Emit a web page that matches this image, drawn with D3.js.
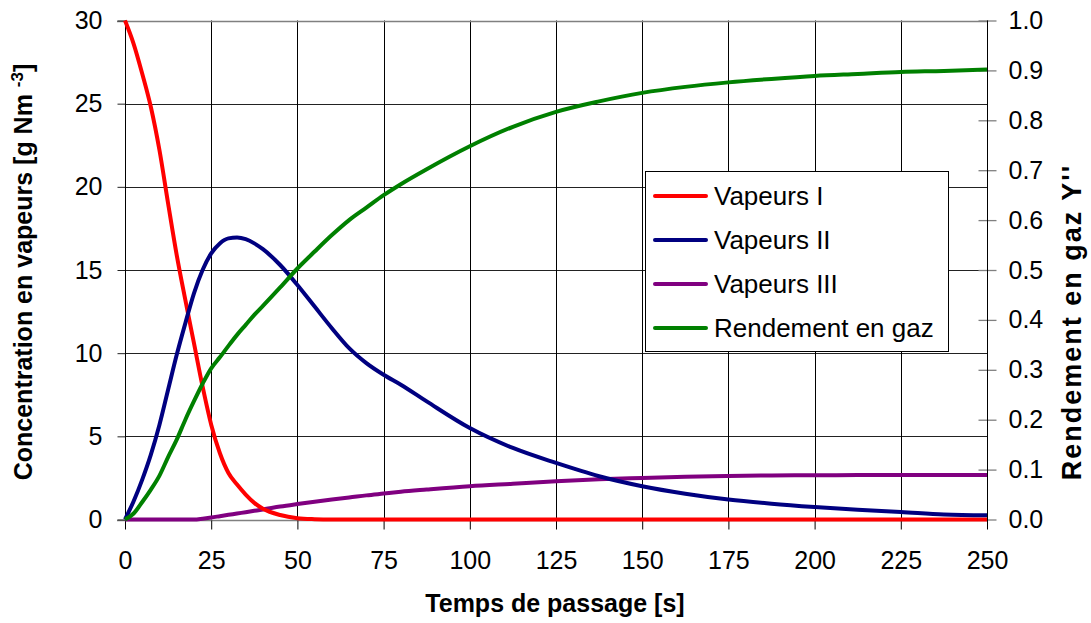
<!DOCTYPE html>
<html><head><meta charset="utf-8">
<script src="https://cdn.jsdelivr.net/npm/d3@7"></script>
<style>
html,body{margin:0;padding:0;background:#fff;}
svg text{font-family:"Liberation Sans",Arial,sans-serif;}
</style></head>
<body>
<svg id="chart" width="1091" height="623"></svg>
<script>
const times   = [0,2.5,5,7.5,10,12.5,15,17.5,20,22.5,25,27.5,30,32.5,35,37.5,40,45,50,55,60,65,70,75,80,87.5,100,112.5,125,137.5,150,162.5,175,187.5,200,212.5,225,237.5,250];
const vapI    = [30,28.6,26.8,24.8,22.2,19.0,15.9,13.2,10.6,8.0,5.7,4.0,2.8,2.1,1.5,1.0,0.65,0.27,0.08,0.02,0,0,0,0,0,0,0,0,0,0,0,0,0,0,0,0,0,0,0];
const vapII   = [0,1.1,2.4,3.9,5.7,7.8,9.9,11.8,13.6,15.0,16.0,16.6,16.9,16.95,16.85,16.6,16.25,15.3,14.1,12.8,11.5,10.3,9.4,8.7,8.1,7.1,5.5,4.3,3.4,2.6,2.0,1.55,1.2,0.95,0.75,0.58,0.45,0.3,0.25];
const vapIII  = [0,0,0,0,0,0,0,0,0,0.05,0.12,0.2,0.28,0.36,0.44,0.52,0.6,0.78,0.93,1.07,1.2,1.32,1.45,1.56,1.67,1.8,2.0,2.15,2.3,2.42,2.5,2.57,2.62,2.65,2.66,2.67,2.68,2.68,2.68];
const rendGaz = [0,0.012,0.035,0.06,0.088,0.125,0.16,0.2,0.237,0.272,0.303,0.325,0.348,0.37,0.39,0.41,0.428,0.465,0.503,0.537,0.57,0.6,0.625,0.65,0.672,0.702,0.748,0.787,0.817,0.838,0.855,0.867,0.876,0.883,0.889,0.893,0.897,0.899,0.902];

const xTicks = [0,25,50,75,100,125,150,175,200,225,250];
const yLeftTicks = [0,5,10,15,20,25,30];
const yRightTicks = [0,0.1,0.2,0.3,0.4,0.5,0.6,0.7,0.8,0.9,1.0];
const seriesNames = ["Vapeurs I","Vapeurs II","Vapeurs III","Rendement en gaz"];
const seriesColors = ["#ff0000","#000080","#800080","#008000"];

const L=125, R=987, T=20.5, B=519.5;
const svg = d3.select("#chart");
svg.append("rect").attr("width",1091).attr("height",623).attr("fill","#fff");

const x = d3.scaleLinear().domain([0,250]).range([L,R]);
const yL = d3.scaleLinear().domain([0,30]).range([B,T]);
const yR = d3.scaleLinear().domain([0,1]).range([B,T]);

// horizontal gridlines
svg.append("g").selectAll("line").data(yLeftTicks.filter(d=>d>0&&d<30)).join("line")
  .attr("x1",L).attr("x2",R).attr("y1",d=>Math.round(yL(d))+0.5).attr("y2",d=>Math.round(yL(d))+0.5)
  .attr("stroke","#222").attr("stroke-width",1);
// vertical gridlines
svg.append("g").selectAll("line").data(xTicks.filter(d=>d>0)).join("line")
  .attr("x1",d=>Math.round(x(d))+0.5).attr("x2",d=>Math.round(x(d))+0.5).attr("y1",T).attr("y2",B)
  .attr("stroke","#000").attr("stroke-width",1);
// top and bottom border lines (gray)
svg.append("line").attr("x1",L-8).attr("x2",R).attr("y1",Math.round(T)+0.5).attr("y2",Math.round(T)+0.5).attr("stroke","#808080").attr("stroke-width",1.5);
svg.append("line").attr("x1",L-8).attr("x2",R).attr("y1",Math.round(B)+0.5).attr("y2",Math.round(B)+0.5).attr("stroke","#808080").attr("stroke-width",1.5);

// axes
const fs = 25;
const gL = svg.append("g").attr("transform",`translate(${Math.round(L)+0.5},0)`)
  .call(d3.axisLeft(yL).tickValues(yLeftTicks).tickSize(8).tickPadding(15).tickFormat(d3.format("d")));
gL.select(".domain").remove();
gL.selectAll(".tick line").attr("stroke","#222");
gL.selectAll("text").attr("font-size",fs).attr("fill","#000");
svg.append("line").attr("x1",Math.round(L)+0.5).attr("x2",Math.round(L)+0.5).attr("y1",T).attr("y2",B+9).attr("stroke","#000");

const gX = svg.append("g").attr("transform",`translate(0,${Math.round(B)+0.5})`)
  .call(d3.axisBottom(x).tickValues(xTicks).tickSize(9).tickPadding(22).tickFormat(d3.format("d")));
gX.select(".domain").remove();
gX.selectAll(".tick line").attr("stroke","#000");
gX.selectAll("text").attr("font-size",fs).attr("fill","#000");

const gR = svg.append("g").attr("transform",`translate(${Math.round(R)+0.5},0)`)
  .call(d3.axisRight(yR).tickValues(yRightTicks).tickSize(9).tickPadding(12).tickFormat(d3.format(".1f")));
gR.select(".domain").remove();
gR.selectAll(".tick line").attr("x1",-9).attr("stroke","#808080").attr("stroke-width",1.3);
gR.selectAll("text").attr("font-size",fs).attr("fill","#000");
svg.append("line").attr("x1",Math.round(R)+0.5).attr("x2",Math.round(R)+0.5).attr("y1",T).attr("y2",B+9).attr("stroke","#000");

// lines
const lineL = d3.line().x((d,i)=>x(times[i])).y(d=>yL(d)).curve(d3.curveMonotoneX);
const lineR = d3.line().x((d,i)=>x(times[i])).y(d=>yR(d)).curve(d3.curveMonotoneX);
const gLines = svg.append("g");
gLines.append("path").attr("d",lineL(vapIII)).attr("fill","none").attr("stroke",seriesColors[2]).attr("stroke-width",4);
gLines.append("path").attr("d",lineL(vapI)).attr("fill","none").attr("stroke",seriesColors[0]).attr("stroke-width",4);
gLines.append("path").attr("d",lineL(vapII)).attr("fill","none").attr("stroke",seriesColors[1]).attr("stroke-width",4);
gLines.append("path").attr("d",lineR(rendGaz)).attr("fill","none").attr("stroke",seriesColors[3]).attr("stroke-width",4);

// axis titles
svg.append("text").attr("x",555).attr("y",612).attr("text-anchor","middle")
  .attr("font-size",25).attr("font-weight","bold").text("Temps de passage [s]");
const tl = svg.append("text").attr("transform","translate(32,272) rotate(-90)").attr("text-anchor","middle")
  .attr("font-size",25).attr("font-weight","bold");
tl.append("tspan").text("Concentration en vapeurs [g Nm ");
tl.append("tspan").attr("dy",-9).attr("font-size",17).text("-3");
tl.append("tspan").attr("dy",9).text("]");
svg.append("text").attr("transform","translate(1081,322) rotate(-90)").attr("text-anchor","middle")
  .attr("font-size",27).attr("font-weight","bold").attr("letter-spacing",2).text("Rendement en gaz Y''");

// legend
const lg = svg.append("g");
lg.append("rect").attr("x",645.5).attr("y",171.5).attr("width",303).attr("height",180).attr("fill","#fff").attr("stroke","#000").attr("stroke-width",1);
const rowsY = [196,240,284,328];
seriesNames.forEach((n,i)=>{
  lg.append("line").attr("x1",655).attr("x2",706).attr("y1",rowsY[i]).attr("y2",rowsY[i])
    .attr("stroke",seriesColors[i]).attr("stroke-width",4).attr("stroke-linecap","round");
  lg.append("text").attr("x",714).attr("y",rowsY[i]).attr("dy","0.36em").attr("font-size",26).text(n);
});
</script>
</body></html>
